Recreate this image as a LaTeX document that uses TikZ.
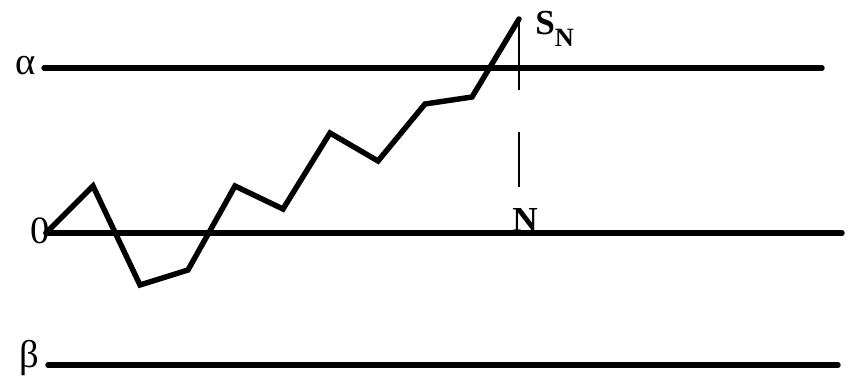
\documentclass[tikz,border=0pt]{standalone}
\usepackage{fontspec}
\setmainfont{Liberation Serif}
\usepackage{tikz}
\usetikzlibrary{
  arrows.meta,
  calc,
  positioning
}
\tikzset{
  level line/.style={
    draw=black,
    line width=3.1pt,
    line cap=round
  }
}
\tikzset{
  walk/.style={
    draw=black,
    line width=3.1pt,
    line join=miter,
    line cap=round
  }
}
\tikzset{
  drop line/.style={
    draw=black,
    line width=1.1pt,
    dash pattern=on 1.42cm off 0.84cm
  }
}
\tikzset{
  level label/.style={
    inner sep=0pt,
    font=\fontsize{22}{26}\selectfont
  }
}
\tikzset{
  step label/.style={
    inner sep=0pt,
    font=\fontsize{20}{24}\selectfont\bfseries
  }
}

\begin{document}
\begin{tikzpicture}

    \useasboundingbox (0,0) rectangle (17.04,7.54);

    % ------------------------------------------------------------
    % Levels
    % ------------------------------------------------------------

    \coordinate (alpha start) at (0.88,6.18);
    \coordinate (alpha end)   at (16.44,6.18);
    \coordinate (zero start)  at (0.92,2.88);
    \coordinate (zero end)    at (16.84,2.88);
    \coordinate (beta start)  at (0.96,0.24);
    \coordinate (beta end)    at (16.76,0.24);

    \node[level label] (alpha) at (0.52,6.22) {α};
    \node[level label] (zero)  at (0.80,2.92) {0};
    \node[level label] (beta)  at (0.58,0.38) {β};

    % ------------------------------------------------------------
    % Walk
    % ------------------------------------------------------------

    \coordinate (S0)  at (0.92,2.88);
    \coordinate (S1)  at (1.86,3.82);
    \coordinate (S2)  at (2.80,1.84);
    \coordinate (S3)  at (3.76,2.14);
    \coordinate (S4)  at (4.70,3.82);
    \coordinate (S5)  at (5.66,3.36);
    \coordinate (S6)  at (6.60,4.88);
    \coordinate (S7)  at (7.56,4.32);
    \coordinate (S8)  at (8.50,5.46);
    \coordinate (S9)  at (9.44,5.60);
    \coordinate (SN)  at (10.38,7.16);
    \coordinate (foot) at (10.38,3.80);

    \node[step label,anchor=base west] (SN label) at (10.70,6.84)
    {S\raisebox{-0.32em}{\fontsize{15}{18}\selectfont N}};

    \node[step label,anchor=base] (N) at (10.50,2.90) {N};

    % ------------------------------------------------------------
    % Lines
    % ------------------------------------------------------------

    \draw[level line] (alpha start) -- (alpha end);
    \draw[level line] (zero start) -- (zero end);
    \draw[level line] (beta start) -- (beta end);

    \draw[walk]
      (S0) -- (S1) -- (S2) -- (S3) -- (S4) -- (S5)
      -- (S6) -- (S7) -- (S8) -- (S9) -- (SN);

    \draw[drop line] (SN) -- (foot);

    \end{tikzpicture}
\end{document}
